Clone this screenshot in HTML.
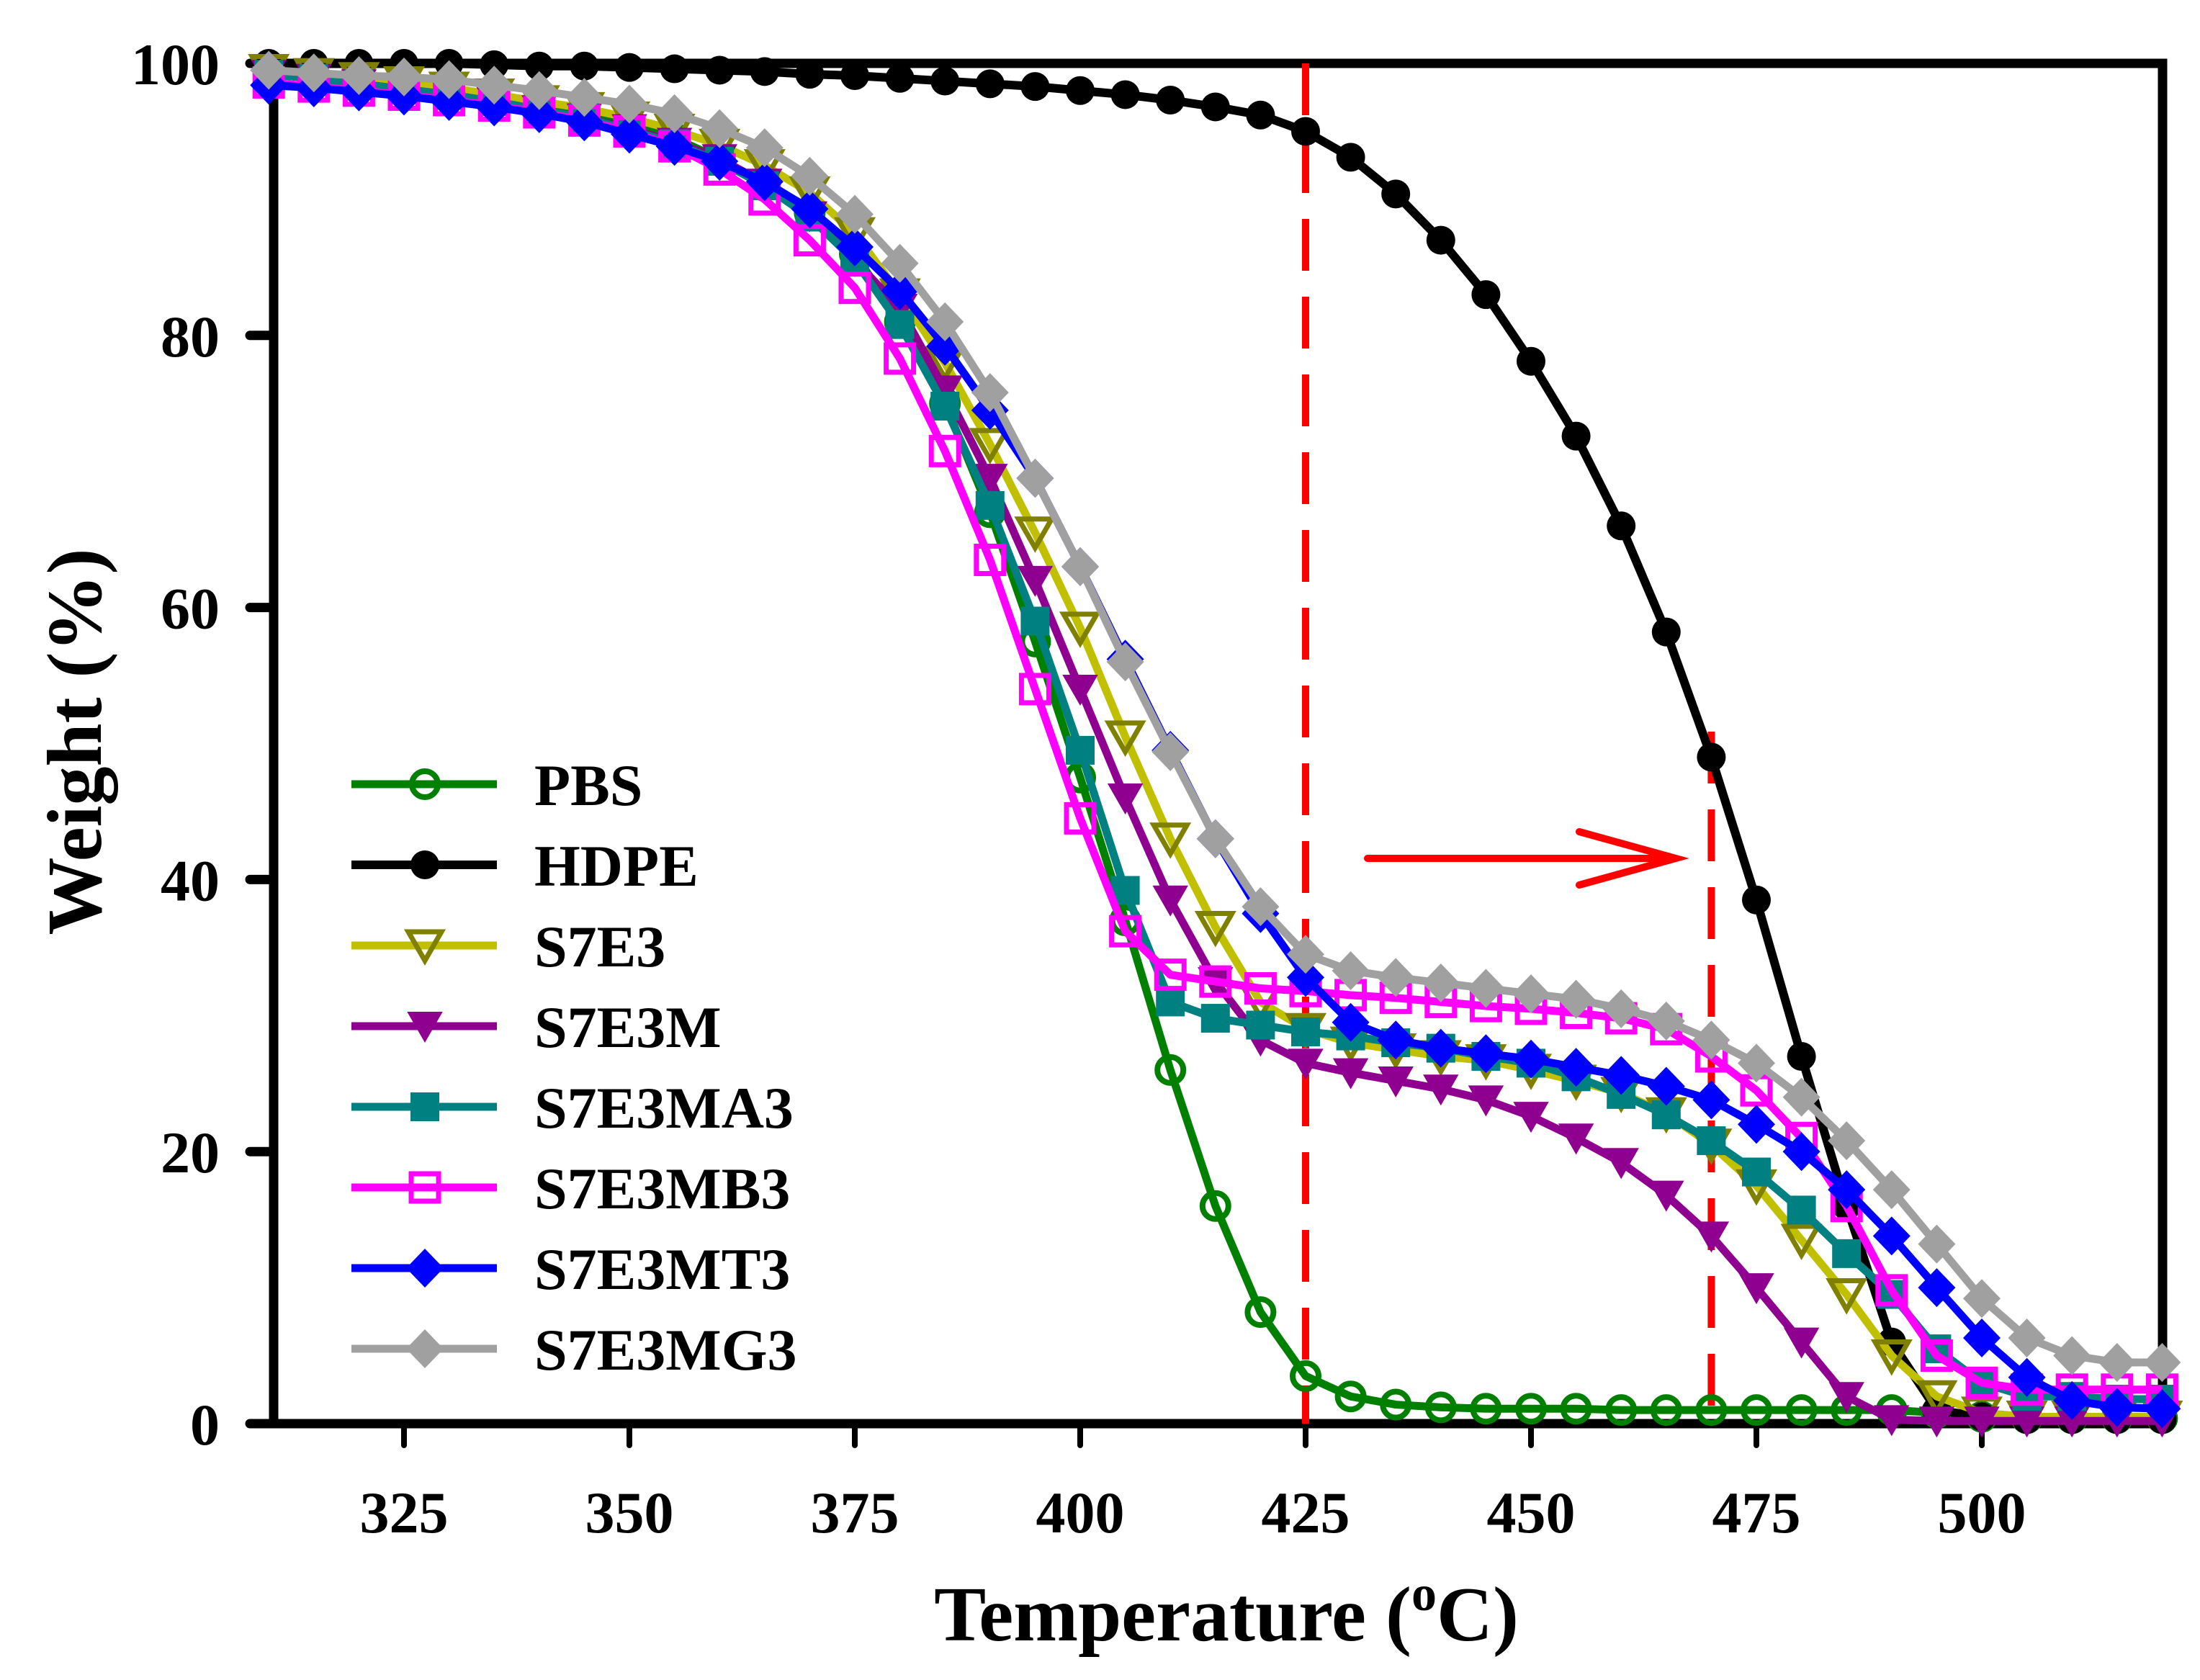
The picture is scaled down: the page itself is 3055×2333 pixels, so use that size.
<!DOCTYPE html>
<html><head><meta charset="utf-8"><style>
html,body{margin:0;padding:0;background:#fff}
svg{display:block}
text{font-family:"Liberation Serif",serif;font-weight:bold;fill:#000}
</style></head><body>
<svg id="chart" xmlns="http://www.w3.org/2000/svg" width="3055" height="2333" viewBox="0 0 3055 2333">
<g id="plot"></g>
</svg>
<script>
const temps=[310,315,320,325,330,335,340,345,350,355,360,365,370,375,380,385,390,395,400,405,410,415,420,425,430,435,440,445,450,455,460,465,470,475,480,485,490,495,500,505,510,515,520];
const pbs=[99.2,98.9,98.6,98.2,97.8,97.3,96.8,96.2,95.5,94.5,93,91,89,86,81,75,67,57.5,47.5,37,26,16,8.2,3.5,2,1.4,1.2,1.1,1.1,1.1,1.0,1.0,1.0,1.0,1.0,1.0,1.0,0.8,0.5,0.4,0.4,0.4,0.4];
const hdpe=[100,100,100,100,100,99.9,99.8,99.8,99.7,99.6,99.5,99.4,99.2,99.1,98.9,98.7,98.5,98.3,98.0,97.7,97.3,96.8,96.2,95,93.1,90.4,87,83,78.1,72.6,66,58.2,49,38.5,27,16,6,1,0.5,0.3,0.3,0.3,0.3];
const s7e3=[99.5,99.2,98.9,98.6,98.2,97.7,97.2,96.7,96,95.1,94,92.5,90.5,87.5,83,78,72,65.5,58.5,50.5,43,36.5,31,29,28,27.5,27,26.7,26,25.2,24.3,22.8,20.5,17.5,13.5,9.5,5,2,0.8,0.5,0.5,0.5,0.5];
const s7e3m=[99.2,98.9,98.5,98.1,97.7,97.2,96.6,96,95.2,94.2,93,91.2,88.8,85.5,82,76,69.5,62,54,46,38.5,32.5,28.2,26.5,25.8,25.2,24.6,23.8,22.6,21,19.2,16.8,13.8,10,6,2,0.3,0.2,0.2,0.2,0.2,0.2,0.2];
const s7e3ma3=[99.2,98.9,98.5,98.1,97.7,97.2,96.6,96,95.1,94.1,92.8,91,88.7,85.5,80.8,74.8,67.5,59,49.5,39.2,31,29.8,29.3,28.8,28.5,28,27.6,27,26.5,25.5,24.2,22.7,20.8,18.5,15.7,12.5,9.5,5.5,3,2,2,1.8,1.8];
const s7e3mb3=[98.6,98.3,98,97.7,97.3,96.9,96.4,95.8,95,93.9,92.2,90,87,83.5,78.3,71.5,63.5,54,44.5,36.2,33,32.5,32,31.8,31.5,31.3,31,30.7,30.5,30.2,29.8,29,27,24.5,21,16,9.8,5,3,2.5,2.5,2.5,2.5];
const s7e3mt3=[98.4,98.2,97.9,97.6,97.2,96.8,96.3,95.7,94.8,93.9,92.8,91.3,89.3,86.5,83.3,79.2,74.5,69.5,63,56.2,49.5,43,37.5,32.8,29.5,28.2,27.6,27.2,26.8,26.2,25.6,24.8,23.8,22,20,17.2,13.8,10,6.3,3.4,1.7,1.2,1.1];
const s7e3mg3=[99.5,99.3,99.1,99,98.8,98.4,98,97.5,97,96.3,95.2,93.8,91.7,88.9,85.3,81,75.8,69.5,63,56,49.4,43,38,34.5,33.3,32.8,32.4,32,31.6,31.2,30.5,29.6,28.2,26.5,24,20.8,17.2,13.2,9.2,6.3,5,4.5,4.5];
const seriesNames=["PBS","HDPE","S7E3","S7E3M","S7E3MA3","S7E3MB3","S7E3MT3","S7E3MG3"];
const xTicks=[325,350,375,400,425,450,475,500];
const yTicks=[0,20,40,60,80,100];

const NS="http://www.w3.org/2000/svg";
const L=380,R=3003,T=88,B=1977;
function xs(t){return 561+(t-325)*12.52;}
function ys(v){return B-(v/100)*(B-T);}
const g=document.getElementById('plot');
function mk(tag,attrs,parent){const e=document.createElementNS(NS,tag);for(const k in attrs)e.setAttribute(k,attrs[k]);(parent||g).appendChild(e);return e;}

const styles=[
 {data:pbs,line:"#008000",m:"circle",fill:"none",stroke:"#008000",lw:11},
 {data:hdpe,line:"#000000",m:"dot",fill:"#000",stroke:"#000",lw:12},
 {data:s7e3,line:"#c0c000",m:"tri",fill:"none",stroke:"#808000",lw:11},
 {data:s7e3m,line:"#900090",m:"tri",fill:"#900090",stroke:"#900090",lw:11},
 {data:s7e3ma3,line:"#008080",m:"sq",fill:"#008080",stroke:"#008080",lw:11},
 {data:s7e3mb3,line:"#ff00ff",m:"sq",fill:"none",stroke:"#ff00ff",lw:11},
 {data:s7e3mt3,line:"#0000ff",m:"dia",fill:"#0000ff",stroke:"#0000ff",lw:11},
 {data:s7e3mg3,line:"#a0a0a0",m:"dia",fill:"#a0a0a0",stroke:"#a0a0a0",lw:11}
];
function marker(s,x,y,parent){
 let e;
 if(s.m==="circle") e=mk('circle',{cx:x,cy:y,r:18,fill:"none",stroke:s.stroke,'stroke-width':8},parent);
 else if(s.m==="dot") e=mk('circle',{cx:x,cy:y,r:20,fill:"#000"},parent);
 else if(s.m==="tri"){const p=`${x-23},${y-19} ${x+23},${y-19} ${x},${y+21}`;
   e=mk('polygon',{points:p,fill:s.fill,stroke:s.stroke,'stroke-width':s.fill==="none"?7:2,'stroke-linejoin':'miter'},parent);}
 else if(s.m==="sq") e=mk('rect',{x:x-19,y:y-19,width:38,height:38,fill:s.fill,stroke:s.stroke,'stroke-width':s.fill==="none"?7:2},parent);
 else e=mk('polygon',{points:`${x},${y-27} ${x+26},${y} ${x},${y+27} ${x-26},${y}`,fill:s.fill},parent);
 return e;
}

const frame=mk('rect',{x:L,y:T,width:R-L,height:B-T,fill:"none",stroke:"#000",'stroke-width':13});



xTicks.forEach(t=>{
 const x=xs(t);
 const tk=mk('line',{x1:x,y1:B,x2:x,y2:B+30,stroke:"#000",'stroke-width':8,'stroke-linecap':'round'});
 
 
 const tx=mk('text',{x:x,y:2128,'font-size':82,'text-anchor':'middle'});
 tx.textContent=t;
 
 
});
yTicks.forEach(v=>{
 const y=ys(v);
 const tk=mk('line',{x1:L-33,y1:y,x2:L,y2:y,stroke:"#000",'stroke-width':13,'stroke-linecap':'round'});
 
 
 const tx=mk('text',{x:305,y:y+29,'font-size':82,'text-anchor':'end'});
 tx.textContent=v;
 
 
});

const d1=mk('line',{x1:xs(425),y1:T,x2:xs(425),y2:B,stroke:"#ff0000",'stroke-width':10,'stroke-dasharray':'72 36'});


const d2=mk('line',{x1:xs(470),y1:1016,x2:xs(470),y2:B,stroke:"#ff0000",'stroke-width':10,'stroke-dasharray':'72 36'});


const arr=mk('path',{d:"M1899 1192 L2327 1192 M2193 1155 L2327 1192 L2193 1229",fill:"none",stroke:"#ff0000",'stroke-width':10,'stroke-linecap':'round'});



styles.forEach((s,i)=>{
 const sg=mk('g',{});
 
 
 const pts=temps.map((t,j)=>xs(t)+","+ys(s.data[j])).join(" ");
 const pl=mk('polyline',{points:pts,fill:"none",stroke:s.line,'stroke-width':s.lw,'stroke-linejoin':'round'},sg);
 
 
 temps.forEach((t,j)=>{
  const m=marker(s,xs(t),ys(s.data[j]),sg);
  
  
 });
});

const lg=mk('g',{});


styles.forEach((s,i)=>{
 const y=1089+i*112;
 const eg=mk('g',{},lg);
 
 
 mk('line',{x1:488,y1:y,x2:690,y2:y,stroke:s.line,'stroke-width':s.lw},eg);
 marker(s,590,y,eg);
 const tx=mk('text',{x:742,y:y+29,'font-size':82},eg);
 tx.textContent=seriesNames[i];
});

const xt=mk('text',{x:1703,y:2278,'font-size':108,'text-anchor':'middle'});


xt.innerHTML='Temperature (<tspan font-size="70" dy="-42">o</tspan><tspan dy="42">C)</tspan>';
const yt=mk('text',{x:0,y:0,'font-size':108,'text-anchor':'middle',transform:'translate(140,1030) rotate(-90)'});


yt.textContent='Weight (%)';
</script>
</body></html>
